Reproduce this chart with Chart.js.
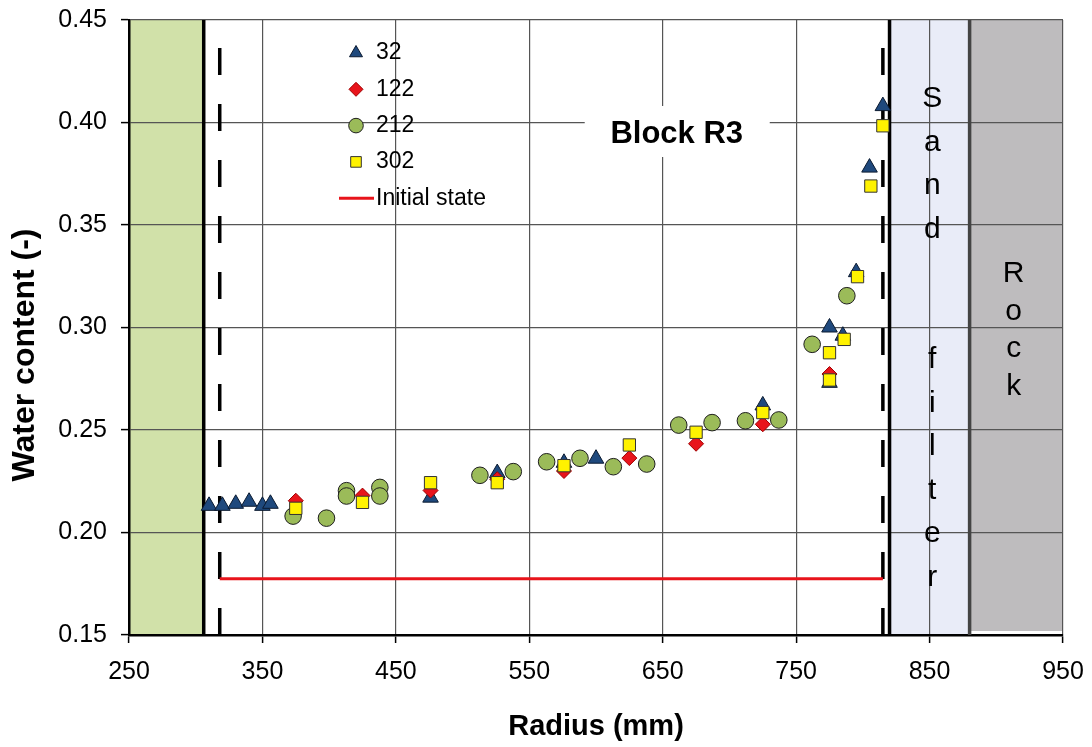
<!DOCTYPE html>
<html>
<head>
<meta charset="utf-8">
<title>Block R3 - water content</title>
<script src="https://cdn.jsdelivr.net/npm/chart.js@4.4.1/dist/chart.umd.min.js"></script>
<style>
  html, body { margin: 0; padding: 0; background: #fff; }
  #quadro { width: 1092px; height: 747px; }
</style>
</head>
<body>
<div id="quadro"><canvas id="graficoR3" width="1092" height="747"></canvas></div>
<script>
Chart.defaults.font.family = '"Liberation Sans", Arial, sans-serif';
Chart.defaults.color = '#000';

// axis limits
const eixoX = [250, 950];
const eixoY = [0.15, 0.45];

// zones along the radius: bentonite (250-306), sand filter (820-880), rock (880-950)
const limitesZonas = [250, 306, 820, 880, 950];
// inner and outer contact (dashed) lines
const contatos = [318, 815];

// survey 32
const raio32 = [310, 320, 330, 340, 350, 356, 476, 526, 576, 600, 725, 775, 775, 785, 795, 805, 815];
const teor32 = [0.213, 0.213, 0.214, 0.215, 0.213, 0.214, 0.217, 0.229, 0.234, 0.236, 0.262, 0.300, 0.273, 0.296, 0.327, 0.378, 0.408];

// survey 122
const raio122 = [375, 425, 476, 526, 576, 625, 675, 725, 775];
const teor122 = [0.2155, 0.218, 0.2205, 0.226, 0.230, 0.2363, 0.2433, 0.2528, 0.2773];

// survey 212
const raio212 = [373, 398, 413, 413, 438, 438, 513, 538, 563, 588, 613, 638, 662, 687, 712, 737, 762, 788];
const teor212 = [0.208, 0.207, 0.2204, 0.2178, 0.222, 0.2178, 0.2279, 0.2297, 0.2345, 0.2362, 0.2321, 0.2334, 0.2524, 0.2536, 0.2545, 0.2549, 0.2918, 0.3155];

// survey 302
const raio302 = [375, 425, 476, 526, 576, 625, 675, 725, 775, 775, 786, 796, 806, 815];
const teor302 = [0.2118, 0.2147, 0.2243, 0.2243, 0.2326, 0.2427, 0.2489, 0.2585, 0.2877, 0.2744, 0.2942, 0.3248, 0.369, 0.3984];

// initial state
const raioInicial = [318, 815];
const teorInicial = [0.1775, 0.1775];

function pares(xs, ys) {
  return xs.map(function (x, i) { return { x: x, y: ys[i] }; });
}

const fonteTexto = '"Liberation Sans", Arial, sans-serif';

// colored zones behind the grid, names and boundaries on top of it
const zonasPlugin = {
  id: 'zonas',
  beforeDraw(chart) {
    const ctx = chart.ctx;
    const area = chart.chartArea;
    const x = chart.scales.x;
    const zonas = [[0, 1, '#D1E1A9'], [2, 3, '#E9ECF8'], [3, 4, '#BEBCBE']];
    ctx.save();
    ctx.fillStyle = '#fff';
    ctx.fillRect(0, 0, chart.width, chart.height);
    zonas.forEach(function (z, i) {
      const x1 = x.getPixelForValue(limitesZonas[z[0]]);
      const x2 = x.getPixelForValue(limitesZonas[z[1]]);
      const fundo = i == 2 ? area.bottom - 4 : area.bottom;
      ctx.fillStyle = z[2];
      ctx.fillRect(x1, area.top, x2 - x1, fundo - area.top);
    });
    ctx.restore();
  },
  beforeDatasetsDraw(chart) {
    const ctx = chart.ctx;
    const area = chart.chartArea;
    const x = chart.scales.x;
    const y = chart.scales.y;
    ctx.save();

    // zone boundaries
    const bordas = [[limitesZonas[1], '#000'], [limitesZonas[2], '#000'], [limitesZonas[3], '#444']];
    bordas.forEach(function (b) {
      const px = x.getPixelForValue(b[0]);
      ctx.strokeStyle = b[1];
      ctx.lineWidth = 3.5;
      ctx.beginPath();
      ctx.moveTo(px, area.top);
      ctx.lineTo(px, area.bottom);
      ctx.stroke();
    });

    // vertical zone names
    ctx.fillStyle = '#000';
    ctx.font = '30px ' + fonteTexto;
    ctx.textAlign = 'center';
    ctx.textBaseline = 'alphabetic';
    const areia = 'Sand  filter';
    const xAreia = x.getPixelForValue(852);
    for (let i = 0; i < areia.length; i++) {
      ctx.fillText(areia[i], xAreia, area.top + 87 + i * 43.5);
    }
    const rocha = 'Rock';
    const xRocha = x.getPixelForValue(913);
    for (let i = 0; i < rocha.length; i++) {
      ctx.fillText(rocha[i], xRocha, area.top + 262 + i * 37.5);
    }

    // block label on a white box
    const bx = x.getPixelForValue(660.5);
    const by = y.getPixelForValue(0.39);
    ctx.fillStyle = '#fff';
    ctx.fillRect(bx - 92, by - 37, 185, 51);
    ctx.fillStyle = '#000';
    ctx.font = 'bold 31px ' + fonteTexto;
    ctx.fillText('Block R3', bx, by);
    ctx.restore();
  },
  afterDraw(chart) {
    // y title, set a little below the middle of the axis
    const ctx = chart.ctx;
    ctx.save();
    ctx.translate(25, chart.chartArea.top + 335);
    ctx.rotate(-Math.PI / 2);
    ctx.font = 'bold 32px ' + fonteTexto;
    ctx.fillStyle = '#000';
    ctx.textAlign = 'center';
    ctx.textBaseline = 'middle';
    ctx.fillText('Water content (-)', 0, 0);
    ctx.restore();
  }
};

// legend drawn inside the plot, top left
const legendaPlugin = {
  id: 'legendaR3',
  afterDraw(chart) {
    const ctx = chart.ctx;
    const area = chart.chartArea;
    const raios = { triangle: 7.5, rectRot: 7, circle: 7.3, rect: 7.5 };
    const mx = area.left + 227;
    let my = area.top + 33;
    ctx.save();
    ctx.font = '23px ' + fonteTexto;
    ctx.textBaseline = 'middle';
    ctx.textAlign = 'left';
    chart.data.datasets.forEach(function (ds) {
      if (!ds.label) return;
      if (ds.showLine) {
        ctx.strokeStyle = ds.borderColor;
        ctx.lineWidth = 3;
        ctx.beginPath();
        ctx.moveTo(mx - 17, my);
        ctx.lineTo(mx + 18, my);
        ctx.stroke();
      } else {
        ctx.fillStyle = ds.backgroundColor;
        ctx.strokeStyle = ds.borderColor;
        ctx.lineWidth = ds.borderWidth;
        Chart.helpers.drawPoint(ctx, {
          pointStyle: ds.pointStyle, rotation: 0,
          radius: raios[ds.pointStyle], borderWidth: ds.borderWidth
        }, mx, my);
      }
      ctx.fillStyle = '#000';
      ctx.fillText(ds.label, mx + 20, my);
      my += 36.3;
    });
    ctx.restore();
  }
};

const config = {
  type: 'scatter',
  data: {
    datasets: [
      {
        label: '32', data: pares(raio32, teor32),
        pointStyle: 'triangle', pointRadius: 9,
        backgroundColor: '#1F497D', borderColor: '#0B1A30', borderWidth: 1, order: 4
      },
      {
        label: '122', data: pares(raio122, teor122),
        pointStyle: 'rectRot', pointRadius: 7.5,
        backgroundColor: '#E8141B', borderColor: '#A00000', borderWidth: 1, order: 3
      },
      {
        label: '212', data: pares(raio212, teor212),
        pointStyle: 'circle', pointRadius: 8.3,
        backgroundColor: '#9BBB59', borderColor: '#1E1E1E', borderWidth: 1, order: 2
      },
      {
        label: '302', data: pares(raio302, teor302),
        pointStyle: 'rect', pointRadius: 8.7,
        backgroundColor: '#FFF200', borderColor: '#333', borderWidth: 1, order: 1
      },
      {
        label: 'Initial state', data: pares(raioInicial, teorInicial),
        showLine: true, pointRadius: 0,
        borderColor: '#E8141B', borderWidth: 3, order: 5
      },
      {
        label: '', data: pares([contatos[0], contatos[0]], eixoY),
        showLine: true, pointRadius: 0,
        borderColor: '#000', borderWidth: 3.5, borderDash: [27, 29], order: 6
      },
      {
        label: '', data: pares([contatos[1], contatos[1]], eixoY),
        showLine: true, pointRadius: 0,
        borderColor: '#000', borderWidth: 3.5, borderDash: [27, 29], order: 6
      }
    ]
  },
  options: {
    responsive: false,
    animation: false,
    events: [],
    layout: { padding: { top: 20, right: 29, left: 0, bottom: 0 } },
    plugins: {
      legend: { display: false },
      tooltip: { enabled: false }
    },
    scales: {
      x: {
        type: 'linear',
        min: eixoX[0], max: eixoX[1],
        afterFit(scale) {
          scale.height = 112;
          scale.paddingLeft = 0;
          scale.paddingRight = 0;
        },
        ticks: { stepSize: 100, maxRotation: 0, padding: 14, font: { size: 25 } },
        grid: { color: '#555', lineWidth: 1.2, tickColor: '#000', tickLength: 8, tickWidth: 1.5 },
        border: { color: '#000', width: 2.5 },
        title: {
          display: true, text: 'Radius (mm)',
          font: { size: 29, weight: 'bold' }, padding: { top: 0, bottom: 3 }
        }
      },
      y: {
        min: eixoY[0], max: eixoY[1],
        afterFit(scale) {
          scale.width = 129;
          scale.paddingTop = 0;
          scale.paddingBottom = 0;
        },
        ticks: {
          stepSize: 0.05, padding: 14, font: { size: 25 },
          callback: function (v) { return v.toFixed(2); }
        },
        grid: { color: '#555', lineWidth: 1.2, tickColor: '#000', tickLength: 8, tickWidth: 1.5 },
        border: { color: '#000', width: 2.5 }
      }
    }
  },
  plugins: [zonasPlugin, legendaPlugin]
};

let graficoR3 = new Chart(document.getElementById('graficoR3'), config);
</script>
</body>
</html>
